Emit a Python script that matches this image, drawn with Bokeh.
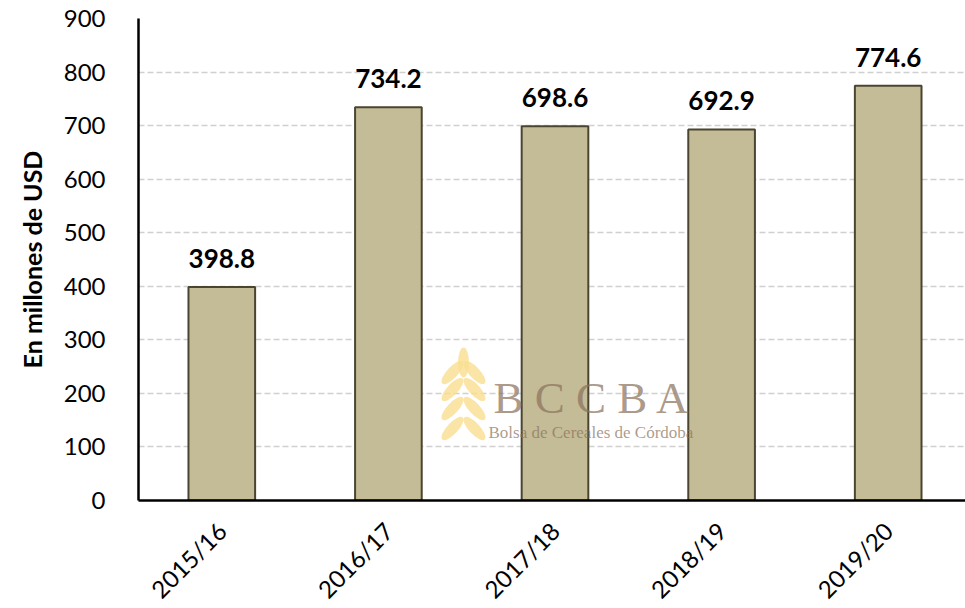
from bokeh.plotting import figure
from bokeh.models import Range1d, FixedTicker, Label, ColumnDataSource, LabelSet
from bokeh.core.properties import value
from bokeh.embed import file_html
from bokeh.resources import INLINE
import math

campaigns = ["2015/16", "2016/17", "2017/18", "2018/19", "2019/20"]
values = [398.8, 734.2, 698.6, 692.9, 774.6]
y_ticks = [0, 100, 200, 300, 400, 500, 600, 700, 800, 900]

xs = list(range(len(campaigns)))
src = ColumnDataSource(dict(x=xs, top=values, lab=[f"{v:.1f}" for v in values]))

FONT = "Lato"
FRAME_L, FRAME_T = 138, 18
FRAME_W, FRAME_H = 827, 482

p = figure(frame_width=FRAME_W, frame_height=FRAME_H, output_backend="svg", toolbar_location=None,
           x_range=Range1d(-0.5, 4.464), y_range=Range1d(0, 900),
           min_border_left=FRAME_L, min_border_right=0, min_border_top=FRAME_T, min_border_bottom=0)
p.outline_line_color = None
p.background_fill_color = "white"

# grid
p.xgrid.grid_line_color = None
p.ygrid.grid_line_color = "#d0d0d0"
p.ygrid.grid_line_dash = "6 3"
p.ygrid.grid_line_width = 1.5

# axes
p.yaxis.ticker = FixedTicker(ticks=y_ticks)
p.yaxis.major_tick_line_color = None
p.yaxis.minor_tick_line_color = None
p.yaxis.axis_line_color = "black"
p.yaxis.axis_line_width = 2.5
p.yaxis.major_label_text_font = FONT
p.yaxis.major_label_text_font_size = "24px"
p.yaxis.major_label_text_color = "black"
p.yaxis.major_label_standoff = 27
p.yaxis.axis_label = "En millones de USD"
p.yaxis.axis_label_text_font = FONT
p.yaxis.axis_label_text_font_style = "bold"
p.yaxis.axis_label_text_font_size = "25px"
p.yaxis.axis_label_text_color = "black"
p.yaxis.axis_label_standoff = 14

p.xaxis.ticker = FixedTicker(ticks=xs)
p.xaxis.major_label_overrides = {i: c for i, c in enumerate(campaigns)}
p.xaxis.major_tick_line_color = None
p.xaxis.minor_tick_line_color = None
p.xaxis.axis_line_color = "black"
p.xaxis.axis_line_width = 2.5
p.xaxis.major_label_orientation = math.pi / 4
p.xaxis.major_label_text_font = FONT
p.xaxis.major_label_text_font_size = "24px"
p.xaxis.major_label_text_color = "black"
p.xaxis.major_label_standoff = 20

p.vbar(x="x", top="top", width=0.4, source=src, fill_color="#c4bc96",
       line_color="#4a4530", line_width=2)

labels = LabelSet(x="x", y="top", text="lab", source=src, text_align="center",
                  y_offset=19, text_font=value(FONT), text_font_style="bold",
                  text_font_size="26px", text_color="black")
p.add_layout(labels)

# watermark (decorative), positioned in frame pixels
p.extra_x_ranges = {"px": Range1d(0, FRAME_W)}
p.extra_y_ranges = {"py": Range1d(0, FRAME_H)}


def fx(px):  # page x -> frame px
    return px - FRAME_L


def fy(py):  # page y -> frame px from bottom
    return FRAME_T + FRAME_H - py


# partially visible title at the very top (cut off in the reference)
p.add_layout(Label(x=fx(537), y=fy(-3), x_units="screen", y_units="screen",
                   text="Córdoba", text_align="center", text_baseline="alphabetic",
                   text_font=FONT, text_font_style="bold", text_font_size="30px",
                   text_color="black"))

p.add_layout(Label(x=fx(493), y=fy(397), x_units="screen", y_units="screen",
                   text="B C C B A", text_baseline="alphabetic",
                   text_font="Liberation Serif", text_font_size="45px",
                   text_color="#8c735e", text_alpha=0.72))
p.add_layout(Label(x=fx(488), y=fy(432), x_units="screen", y_units="screen",
                   text="Bolsa de Cereales de Córdoba", text_baseline="alphabetic",
                   text_font="Liberation Serif", text_font_size="17px",
                   text_color="#8c735e", text_alpha=0.72))

wx, wy, wa = [], [], []
for k, yy in enumerate([428, 408, 389, 372]):
    wx += [fx(452), fx(474)]
    wy += [fy(yy), fy(yy)]
    wa += [-0.75, 0.75]
wx.append(fx(463))
wy.append(fy(362))
wa.append(0.0)
src_w = ColumnDataSource(dict(x=wx, y=wy, a=wa))
p.ellipse(x="x", y="y", width=11, height=30, angle="a", source=src_w,
          x_range_name="px", y_range_name="py", fill_color="#fadf90",
          line_color=None, fill_alpha=0.8)

open("out.html", "w").write(file_html(p, INLINE))
